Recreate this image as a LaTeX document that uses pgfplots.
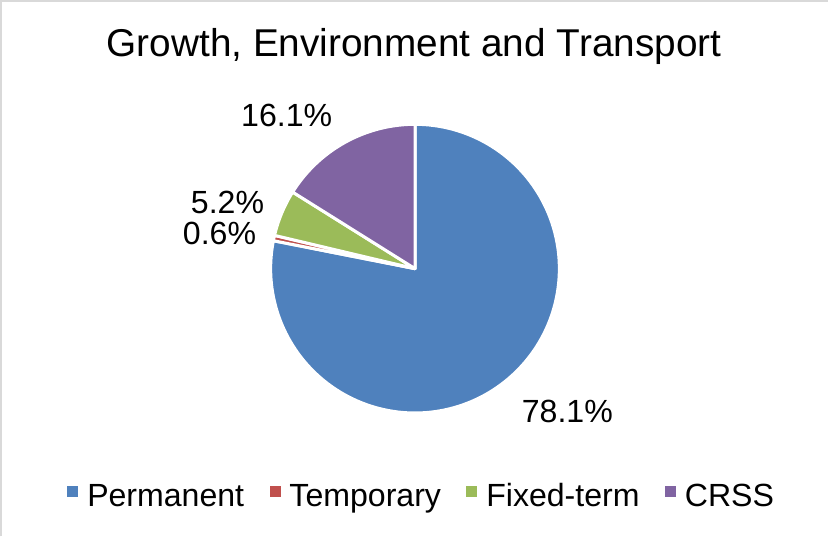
\documentclass[border=0pt]{standalone}
\usepackage{pgfplots}
\pgfplotsset{compat=1.18}
\usepackage{pgfplotstable}
\usepackage{fontspec}
\setmainfont{Liberation Sans}
\definecolor{cPerm}{HTML}{4F81BD}
\definecolor{cTemp}{HTML}{C0504D}
\definecolor{cFixed}{HTML}{9BBB59}
\definecolor{cCRSS}{HTML}{8064A2}
\definecolor{cBorder}{HTML}{D9D9D9}
% share of each category in percent
\pgfplotstableread{
name value
Permanent 78.1
Temporary 0.6
Fixed-term 5.2
CRSS 16.1
}\piedata
\pgfplotstablegetelem{0}{value}\of\piedata \let\vA\pgfplotsretval
\pgfplotstablegetelem{1}{value}\of\piedata \let\vB\pgfplotsretval
\pgfplotstablegetelem{2}{value}\of\piedata \let\vC\pgfplotsretval
\pgfplotstablegetelem{3}{value}\of\piedata \let\vD\pgfplotsretval
\pgfmathsetmacro{\aA}{90}
\pgfmathsetmacro{\aB}{\aA-3.6*\vA}
\pgfmathsetmacro{\aC}{\aB-3.6*\vB}
\pgfmathsetmacro{\aD}{\aC-3.6*\vC}
\pgfmathsetmacro{\aE}{\aD-3.6*\vD}
\def\cx{417}\def\cy{267}\def\R{144}
\begin{document}
\begin{tikzpicture}
\begin{axis}[
  width=621.75pt, height=401.25pt, scale only axis,
  xmin=0, xmax=829, ymin=0, ymax=535,
  hide axis, clip=false,
  legend columns=4,
  legend style={draw=none, fill=none, at={(axis cs:424,40)}, anchor=base,
    font=\fontsize{24}{28}\selectfont, inner sep=0pt,
    /tikz/every even column/.append style={column sep=17pt},
    /tikz/every odd column/.append style={column sep=5pt}},
  legend cell align=left,
]
\addplot[forget plot, fill=cPerm, draw=white, line width=2.25pt, line join=round,
  domain=\aA:\aB, samples=150, variable=\t]
  ({\cx+\R*cos(\t)}, {\cy+\R*sin(\t)}) -- (axis cs:\cx,\cy) -- cycle;
\addplot[forget plot, fill=cTemp, draw=white, line width=2.25pt, line join=round,
  domain=\aB:\aC, samples=10, variable=\t]
  ({\cx+\R*cos(\t)}, {\cy+\R*sin(\t)}) -- (axis cs:\cx,\cy) -- cycle;
\addplot[forget plot, fill=cFixed, draw=white, line width=2.25pt, line join=round,
  domain=\aC:\aD, samples=30, variable=\t]
  ({\cx+\R*cos(\t)}, {\cy+\R*sin(\t)}) -- (axis cs:\cx,\cy) -- cycle;
\addplot[forget plot, fill=cCRSS, draw=white, line width=2.25pt, line join=round,
  domain=\aD:\aE, samples=60, variable=\t]
  ({\cx+\R*cos(\t)}, {\cy+\R*sin(\t)}) -- (axis cs:\cx,\cy) -- cycle;
\addlegendimage{legend image code/.code={\fill[cPerm] (0pt,0pt) rectangle (7.5pt,7.5pt);}}
\addlegendentry{Permanent}
\addlegendimage{legend image code/.code={\fill[cTemp] (0pt,0pt) rectangle (7.5pt,7.5pt);}}
\addlegendentry{Temporary}
\addlegendimage{legend image code/.code={\fill[cFixed] (0pt,0pt) rectangle (7.5pt,7.5pt);}}
\addlegendentry{Fixed-term}
\addlegendimage{legend image code/.code={\fill[cCRSS] (0pt,0pt) rectangle (7.5pt,7.5pt);}}
\addlegendentry{CRSS}
\node[anchor=base, font=\fontsize{29}{34}\selectfont] at (axis cs:416,479) {Growth, Environment and Transport};
\node[anchor=base, font=\fontsize{24}{28}\selectfont] at (axis cs:289,409) {16.1\%};
\node[anchor=base, font=\fontsize{24}{28}\selectfont] at (axis cs:230,322) {5.2\%};
\node[anchor=base, font=\fontsize{24}{28}\selectfont] at (axis cs:222,291) {0.6\%};
\node[anchor=base, font=\fontsize{24}{28}\selectfont] at (axis cs:569,114) {78.1\%};
\draw[cBorder, line width=1.5pt] (axis cs:4,0) -- (axis cs:4,534) -- (axis cs:829,534);
\end{axis}
\end{tikzpicture}
\end{document}
